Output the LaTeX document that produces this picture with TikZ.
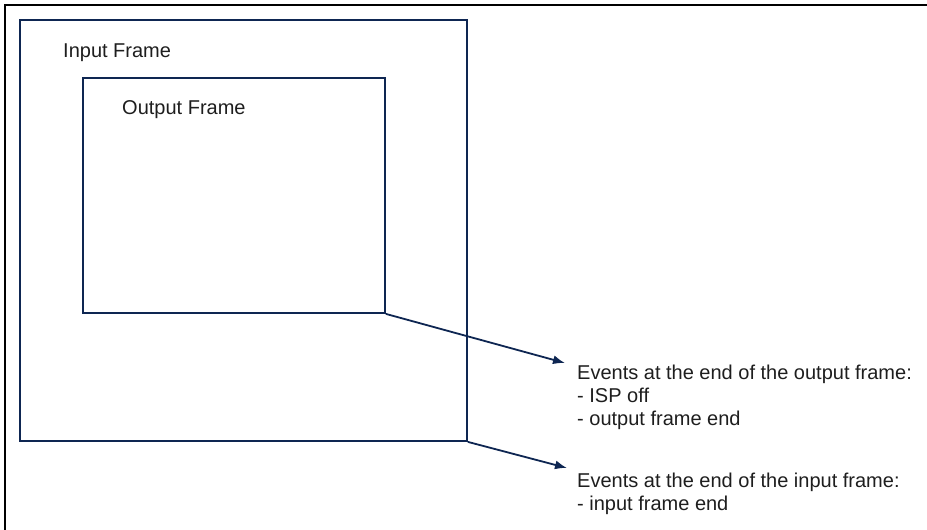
\documentclass[tikz,border=0pt]{standalone}
\usepackage{fontspec}
\setmainfont{Liberation Sans}
\usetikzlibrary{arrows.meta}
\definecolor{framecol}{RGB}{14,38,82}
\definecolor{txtcol}{RGB}{30,30,30}
\begin{document}
\begin{tikzpicture}[>={Latex[length=12pt,width=9pt]},x=1pt,y=-1pt,
  font=\fontsize{20}{23}\selectfont,text=txtcol,
  frame/.style={draw=framecol,line width=1.8pt,inner sep=0pt},
  label/.style={anchor=base west,inner sep=0pt},
  events/.style={anchor=base west,inner sep=0pt,align=left}]
  \useasboundingbox (0,0) rectangle (927,530);
  \draw[line width=1.5pt] (5,530) -- (5,5) -- (927,5);
  \node[frame,minimum width=447pt,minimum height=421pt] (inframe) at (243.5,230.5) {};
  \node[frame,minimum width=302pt,minimum height=235pt] (outframe) at (234,195.5) {};
  \node[label] (inlabel) at (63,57) {Input Frame};
  \node[label] (outlabel) at (122,114) {Output Frame};
  % base of a multi-line node = baseline of its last line
  \node[events] (outevents) at (577,425) {Events at the end of the output frame:\\- ISP off\\- output frame end};
  \node[events] (inevents) at (577,510) {Events at the end of the input frame:\\- input frame end};
  \coordinate (outtip) at (565,363);
  \coordinate (intip) at (567,468);
  \draw[->,draw=framecol,fill=framecol,line width=1.8pt] (outframe.south east) -- (outtip);
  \draw[->,draw=framecol,fill=framecol,line width=1.8pt] (inframe.south east) -- (intip);
\end{tikzpicture}
\end{document}
